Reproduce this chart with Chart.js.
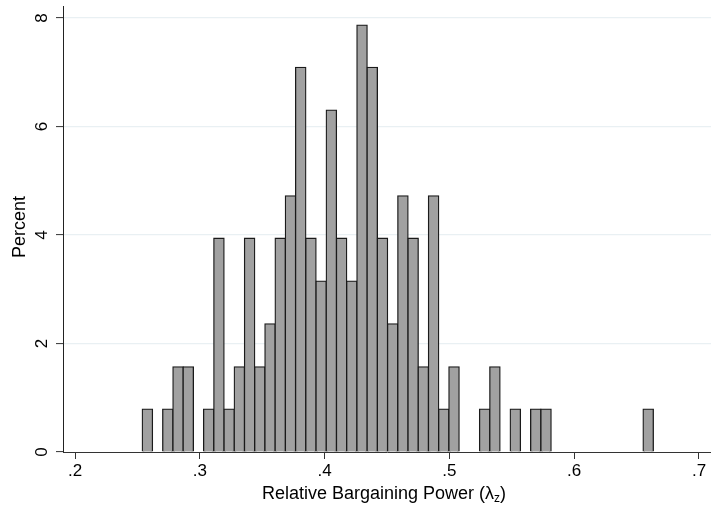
<!DOCTYPE html>
<html>
<head>
<meta charset="utf-8">
<script src="https://cdn.jsdelivr.net/npm/chart.js@4"></script>
<style>
  html, body { margin: 0; padding: 0; background: #fff; }
  #wrap { width: 711px; height: 506px; position: relative; }
</style>
</head>
<body>
<div id="wrap"><canvas id="hist"></canvas></div>
<script>
// Histogram of relative bargaining power, 50 bins
const binStart = 0.2539;
const binWidth = 0.00819;
const percentValues = [
    0.79, 0, 0.79, 1.57, 1.57, 0, 0.79, 3.94, 0.79, 1.57,
    3.94, 1.57, 2.36, 3.94, 4.72, 7.09, 3.94, 3.15, 6.30, 3.94,
    3.15, 7.87, 7.09, 3.94, 2.36, 4.72, 3.94, 1.57, 4.72, 0.79,
    1.57, 0, 0, 0.79, 1.57, 0, 0.79, 0, 0.79, 0.79,
    0, 0, 0, 0, 0, 0, 0, 0, 0, 0.79
];
const xTickValues = [0.2, 0.3, 0.4, 0.5, 0.6, 0.7];
const xTickLabels = ['.2', '.3', '.4', '.5', '.6', '.7'];
const yTickValues = [0, 2, 4, 6, 8];
const yTickLabels = ['0', '2', '4', '6', '8'];
const xTitle = 'Relative Bargaining Power (\u03bb';
const xTitleSub = 'z';
const yTitle = 'Percent';

const FONT = "'Liberation Sans', Arial, Helvetica, sans-serif";

// bin midpoints for the bars
const binMids = percentValues.map((v, i) => binStart + (i + 0.5) * binWidth);
const points = percentValues.map((v, i) => ({ x: binMids[i], y: v }));

// draw rotated y labels and the x title with a subscript
const textPlugin = {
    id: 'textPlugin',
    afterDraw(chart) {
        const ctx = chart.ctx;
        const ys = chart.scales.y;
        const area = chart.chartArea;
        ctx.save();
        ctx.fillStyle = '#000';

        // y tick labels, reading bottom to top
        ctx.font = '17px ' + FONT;
        ctx.textAlign = 'center';
        ctx.textBaseline = 'alphabetic';
        yTickValues.forEach((v, i) => {
            const py = ys.getPixelForValue(v);
            ctx.save();
            ctx.translate(47, py);
            ctx.rotate(-Math.PI / 2);
            ctx.fillText(yTickLabels[i], 0, 0);
            ctx.restore();
        });

        // y title
        ctx.font = '18px ' + FONT;
        ctx.save();
        ctx.translate(25, (area.top + area.bottom) / 2 - 2);
        ctx.rotate(-Math.PI / 2);
        ctx.fillText(yTitle, 0, 0);
        ctx.restore();

        // x title with subscript z
        ctx.textAlign = 'left';
        ctx.font = '18px ' + FONT;
        const w1 = ctx.measureText(xTitle).width;
        const w3 = ctx.measureText(')').width;
        ctx.font = '12px ' + FONT;
        const w2 = ctx.measureText(xTitleSub).width;
        const total = w1 + w2 + w3;
        let x = (area.left + area.right) / 2 - total / 2 - 3;
        const base = 499;
        ctx.font = '18px ' + FONT;
        ctx.fillText(xTitle, x, base);
        x += w1;
        ctx.font = '12px ' + FONT;
        ctx.fillText(xTitleSub, x, base + 3);
        x += w2;
        ctx.font = '18px ' + FONT;
        ctx.fillText(')', x, base);
        ctx.restore();
    }
};

const ctx = document.getElementById('hist').getContext('2d');
const chart = new Chart(ctx, {
    type: 'bar',
    data: {
        datasets: [{
            data: points,
            backgroundColor: '#a1a1a1',
            borderColor: c => (c.raw && c.raw.y > 0) ? '#1a1a1a' : 'rgba(0,0,0,0)',
            borderWidth: 1.3,
            borderSkipped: 'start',
            inflateAmount: 0.65,
            barPercentage: 1,
            categoryPercentage: 1
        }]
    },
    options: {
        responsive: true,
        maintainAspectRatio: false,
        animation: false,
        layout: { padding: { top: 6, right: 0, left: 0, bottom: 0 } },
        plugins: {
            legend: { display: false },
            tooltip: { enabled: false }
        },
        scales: {
            x: {
                type: 'linear',
                offset: false,
                min: 0.19038,
                max: 0.70962,
                afterBuildTicks: s => { s.ticks = xTickValues.map(v => ({ value: v })); },
                afterFit: s => { s.height = 54; },
                ticks: {
                    autoSkip: false,
                    maxRotation: 0,
                    padding: 2,
                    color: '#000',
                    font: { family: FONT, size: 17 },
                    callback: (v) => {
                        const i = xTickValues.findIndex(t => Math.abs(t - v) < 1e-6);
                        return i >= 0 ? xTickLabels[i] : '';
                    }
                },
                grid: {
                    display: true,
                    offset: false,
                    drawOnChartArea: false,
                    drawTicks: true,
                    tickLength: 7,
                    tickColor: '#333',
                    tickWidth: 1
                },
                border: { display: true, color: '#333', width: 1 }
            },
            y: {
                min: 0,
                max: 8.221,
                afterBuildTicks: s => { s.ticks = yTickValues.map(v => ({ value: v })); },
                afterFit: s => { s.width = 63; },
                ticks: { display: false },
                grid: {
                    display: true,
                    drawOnChartArea: true,
                    drawTicks: true,
                    tickLength: 7,
                    tickColor: '#333',
                    tickWidth: 1,
                    lineWidth: 1.2,
                    color: c => (c.tick && c.tick.value === 0) ? 'rgba(0,0,0,0)' : '#e9f0f3'
                },
                border: { display: true, color: '#222', width: 1 }
            }
        }
    },
    plugins: [textPlugin]
});
</script>
</body>
</html>
